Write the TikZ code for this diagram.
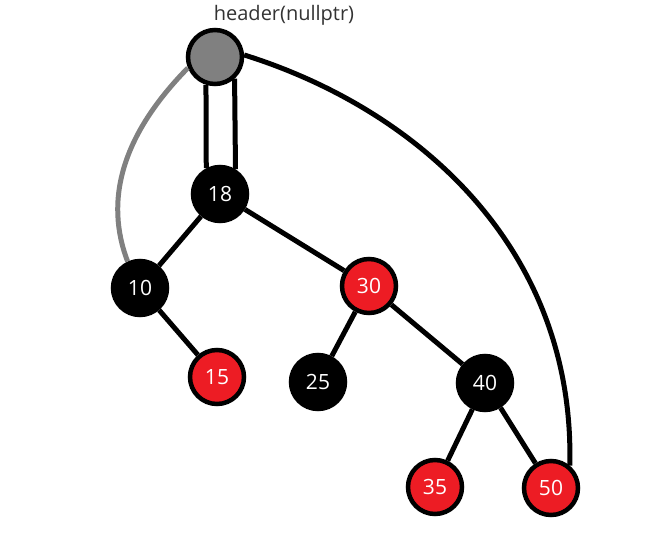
\documentclass[tikz,border=0pt]{standalone}
\usepackage{fontspec}
\setmainfont{Open Sans}
\definecolor{rbred}{HTML}{ED1C24}
\definecolor{hdrgray}{HTML}{808080}

\begin{document}
\begin{tikzpicture}[x=1pt,y=-1pt,
  rbnode/.style={circle,draw=black,line width=4.5pt,minimum size=54pt,inner sep=0pt,
    text=white,font=\fontsize{21}{21}\selectfont},
  blacknode/.style={rbnode,fill=black},
  rednode/.style={rbnode,fill=rbred},
  link/.style={line width=5pt}]
\useasboundingbox (0,0) rectangle (665,538);

% header and tree
\node[rbnode,fill=hdrgray] (hdr) at (215,57) {};
\node[text=black!80,font=\fontsize{20}{20}\selectfont] (hdrlbl) at (284,15) {header(nullptr)};
\node[blacknode] (n18) at (220,194) {18};
\node[blacknode] (n10) at (140,288) {10};
\node[rednode] (n30) at (369,286) {30};
\node[rednode] (n15) at (217,377) {15};
\node[blacknode] (n25) at (318,382) {25};
\node[blacknode] (n40) at (485,383) {40};
\node[rednode] (n35) at (435,487) {35};
\node[rednode] (n50) at (551,488) {50};

% parent links
\draw[link] (hdr.-108) -- (n18.118);
\draw[link] (hdr.-48) -- (n18.58);
\draw[link] (n18) -- (n10);
\draw[link] (n18) -- (n30);
\draw[link] (n10) -- (n15);
\draw[link] (n30) -- (n25);
\draw[link] (n30) -- (n40);
\draw[link] (n40) -- (n35);
\draw[link] (n40) -- (n50);

% leftmost / rightmost
\draw[link,hdrgray] (hdr.202) .. controls (122,135) and (104,200) .. (n10.115);
\draw[link] (hdr.4) .. controls (420,110) and (575,250) .. (n50.50);
\end{tikzpicture}
\end{document}
